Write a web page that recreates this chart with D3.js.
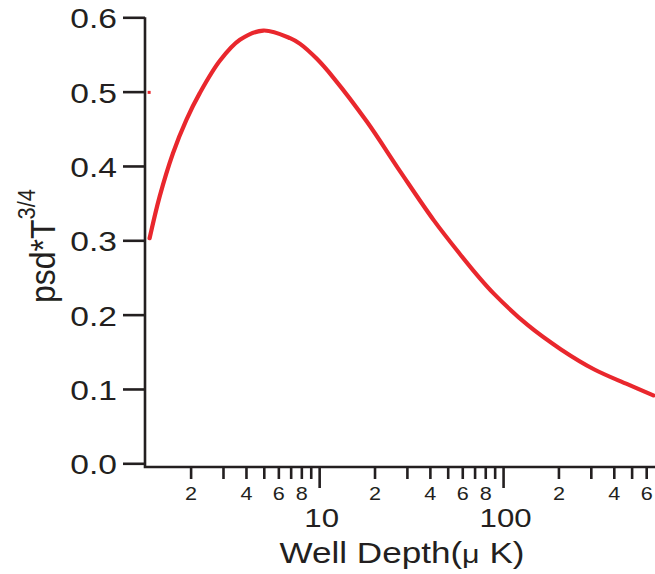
<!DOCTYPE html>
<html>
<head>
<meta charset="utf-8">
<script src="https://cdn.jsdelivr.net/npm/d3@7"></script>
<style>
  html, body { margin: 0; padding: 0; background: #fff; }
  svg { display: block; font-family: "Liberation Sans", Arial, Helvetica, sans-serif; }
  .axis path, .axis line { stroke: #231f20; stroke-width: 2.6; }
  .axis text { fill: #231f20; }
</style>
</head>
<body>
<svg id="chart" width="655" height="574"></svg>
<script>
const WIDTH = 655;
const HEIGHT = 574;
const STRETCH = 1.2; // the source glyphs are a bit wide

// (well depth in uK, psd*T^(3/4))
const DEPTH = [1.197, 1.357, 1.604, 1.897, 2.243, 2.884, 3.707, 4.968, 6.947, 7.877, 9.716, 11.97, 18.2, 27.67, 42.03, 58.78, 72.5, 89.33, 135.9, 206.5, 313.6, 477.2, 655.7];
const PSD = [0.3028, 0.3588, 0.4172, 0.4621, 0.498, 0.5415, 0.5697, 0.5822, 0.572, 0.5643, 0.5441, 0.5186, 0.4594, 0.3921, 0.3268, 0.2803, 0.2528, 0.2279, 0.1861, 0.1532, 0.1262, 0.1061, 0.0913];

// the lone dot next to the axis
const STRAY_DEPTH = [1.19];
const STRAY_PSD = [0.499];

const Y_TICKS = [0, 0.1, 0.2, 0.3, 0.4, 0.5, 0.6];
const X_MINOR = [2, 3, 4, 5, 6, 7, 8, 9, 20, 30, 40, 50, 60, 70, 80, 90, 200, 300, 400, 500, 600];
const X_MINOR_LABELS = { 2: "2", 4: "4", 6: "6", 8: "8", 20: "2", 40: "4", 60: "6", 80: "8", 200: "2", 400: "4", 600: "6" };
const X_MAJOR = [10, 100];
const X_MAJOR_LABELS = ["10", "100"];

const svg = d3.select("#chart");

const x = d3.scaleLog().domain([1.13, 670]).range([145, 655]);
const y = d3.scaleLinear().domain([0, 0.6]).range([463.3, 17.3]);
const xAxisY = 467;

// frame (left + bottom)
svg.append("path")
  .attr("d", `M${x.range()[0]},${y(0.6)}V${xAxisY}H${x.range()[1]}`)
  .attr("fill", "none")
  .attr("stroke", "#231f20")
  .attr("stroke-width", 2.6);

// y axis
const yAxis = svg.append("g")
  .attr("class", "axis")
  .attr("transform", `translate(${x.range()[0]},0)`)
  .call(d3.axisLeft(y).tickValues(Y_TICKS).tickSize(22).tickSizeOuter(0).tickFormat(d3.format(".1f")));
yAxis.select(".domain").remove();
yAxis.selectAll("text")
  .attr("x", null).attr("dy", null)
  .style("font-size", "28px")
  .attr("transform", `translate(-28,10.5) scale(${STRETCH},1)`);

// x axis minor ticks
const xMinor = svg.append("g")
  .attr("class", "axis")
  .attr("transform", `translate(0,${xAxisY})`)
  .call(d3.axisBottom(x).tickValues(X_MINOR).tickSize(12).tickSizeOuter(0).tickFormat((d) => X_MINOR_LABELS[d] || ""));
xMinor.select(".domain").remove();
xMinor.selectAll("text")
  .attr("y", null).attr("dy", null)
  .style("font-size", "18px")
  .attr("transform", `translate(0,33) scale(${STRETCH},1)`);

// x axis decades
const xMajor = svg.append("g")
  .attr("class", "axis")
  .attr("transform", `translate(0,${xAxisY})`)
  .call(d3.axisBottom(x).tickValues(X_MAJOR).tickSize(21).tickSizeOuter(0).tickFormat((d, i) => X_MAJOR_LABELS[i]));
xMajor.select(".domain").remove();
xMajor.selectAll("text")
  .attr("y", null).attr("dy", null)
  .style("font-size", "26px")
  .attr("transform", `translate(2,60) scale(${STRETCH},1)`);

// axis titles
const xTitle = svg.append("text")
  .attr("transform", `translate(402,563) scale(1.17,1)`)
  .attr("text-anchor", "middle")
  .style("font-size", "30px")
  .attr("fill", "#231f20");
xTitle.append("tspan").text("Well Depth(");
xTitle.append("tspan").style("font-size", "26px").text("μ");
xTitle.append("tspan").text(" K)");

const yTitle = svg.append("text")
  .attr("transform", `translate(55,246) rotate(-90) scale(1,1.1)`)
  .attr("text-anchor", "middle")
  .style("font-size", "32px")
  .attr("fill", "#231f20");
yTitle.append("tspan").text("psd*T");
yTitle.append("tspan").attr("dy", -18).style("font-size", "22px").text("3/4");

// curve
const points = DEPTH.map((d, i) => ({ depth: d, psd: PSD[i] }));
const line = d3.line()
  .x((d) => x(d.depth))
  .y((d) => y(d.psd))
  .curve(d3.curveCatmullRom.alpha(0.5));

svg.append("path")
  .datum(points)
  .attr("fill", "none")
  .attr("stroke", "#e9272d")
  .attr("stroke-width", 4.2)
  .attr("stroke-linecap", "round")
  .attr("d", line);

svg.selectAll("rect.stray")
  .data(STRAY_DEPTH.map((d, i) => ({ depth: d, psd: STRAY_PSD[i] })))
  .join("rect")
  .attr("class", "stray")
  .attr("x", (d) => x(d.depth) - 1.5)
  .attr("y", (d) => y(d.psd) - 1.5)
  .attr("width", 3)
  .attr("height", 3)
  .attr("fill", "#e9272d");
</script>
</body>
</html>
